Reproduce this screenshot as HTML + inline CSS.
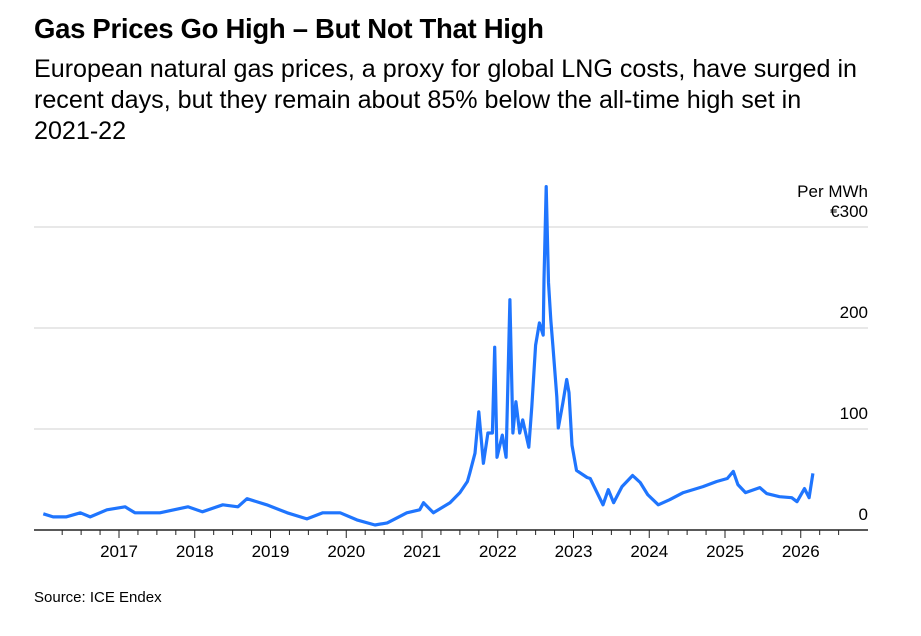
<!DOCTYPE html>
<html><head><meta charset="utf-8"><style>
body{margin:0;background:#fff;width:921px;height:636px;overflow:hidden;font-family:"Liberation Sans",sans-serif;color:#000}
#title{position:absolute;left:34px;top:13px;font-size:27.5px;font-weight:bold;letter-spacing:-0.3px}
#sub{position:absolute;left:34px;top:54px;width:832px;font-size:25.1px;line-height:31px}
#src{position:absolute;left:34px;top:589px;font-size:15px}
svg{position:absolute;left:0;top:0}
</style></head><body>
<div id="title">Gas Prices Go High – But Not That High</div>
<div id="sub">European natural gas prices, a proxy for global LNG costs, have surged in recent days, but they remain about 85% below the all-time high set in <span style="white-space:nowrap">2021-22</span></div>
<div id="src">Source: ICE Endex</div>
<svg id="chart" width="921" height="636"></svg>
<script>
const dates=[2016.0,2016.13,2016.3,2016.49,2016.62,2016.84,2017.08,2017.21,2017.54,2017.91,2018.10,2018.37,2018.57,2018.69,2018.95,2019.22,2019.48,2019.69,2019.92,2020.14,2020.38,2020.54,2020.80,2020.97,2021.02,2021.15,2021.37,2021.5,2021.6,2021.63,2021.70,2021.75,2021.81,2021.87,2021.93,2021.96,2021.99,2022.06,2022.11,2022.16,2022.2,2022.24,2022.29,2022.33,2022.41,2022.45,2022.5,2022.55,2022.6,2022.61,2022.64,2022.67,2022.70,2022.73,2022.78,2022.80,2022.86,2022.91,2022.94,2022.98,2023.04,2023.18,2023.22,2023.39,2023.46,2023.53,2023.64,2023.78,2023.88,2023.98,2024.12,2024.27,2024.45,2024.58,2024.71,2024.89,2025.03,2025.11,2025.17,2025.27,2025.46,2025.55,2025.72,2025.88,2025.95,2026.05,2026.11,2026.16];
const prices=[16,13,13,17,13,20,23,17,17,23,18,25,23,31,25,17,11,17,17,10,5,7,17,20,27,17,27,37,48,56,76,117,66,96,96,181,72,94,72,228,96,127,96,109,82,122,183,205,193,248,340,245,208,181,132,101,126,149,136,84,59,52,51,25,40,27,43,54,47,35,25,30,37,40,43,48,51,58,45,37,42,36,33,32,28,41,32,56];
const yTicks=[0,100,200,300];
const yearTicks=[2017,2018,2019,2020,2021,2022,2023,2024,2025,2026];
const ns="http://www.w3.org/2000/svg",svg=document.getElementById('chart');
const X=t=>119+(t-2017)*75.75, Y=v=>530-v*1.01;
function mk(tag,at){const e=document.createElementNS(ns,tag);for(const k in at)e.setAttribute(k,at[k]);svg.appendChild(e);return e;}
yTicks.forEach(v=>{
 if(v>0){const g=mk('line',{x1:34,x2:868,y1:Y(v),y2:Y(v),stroke:'#d0d0d0','stroke-width':1});
 
 }
 const t=mk('text',{x:868,y:Y(v)-10,'text-anchor':'end','font-size':17,'font-family':'Liberation Sans, sans-serif'});
 t.textContent=(v===300?'€':'')+v;
 
 
});
const u=mk('text',{x:868,y:197,'text-anchor':'end','font-size':17,'font-family':'Liberation Sans, sans-serif'});u.textContent='Per MWh';


const ax=mk('line',{x1:34,x2:868,y1:530,y2:530,stroke:'#222','stroke-width':1.5});


for(let q=2016.25;q<2026.6;q+=0.25){const major=Math.abs(q-Math.round(q))<0.01;
 mk('line',{x1:X(q),x2:X(q),y1:530,y2:major?538:535,stroke:'#222','stroke-width':1});}
yearTicks.forEach(y=>{const t=mk('text',{x:X(y),y:557,'text-anchor':'middle','font-size':17,'font-family':'Liberation Sans, sans-serif'});t.textContent=y;
 
 });
const p=mk('path',{d:dates.map((d,i)=>(i?'L':'M')+X(d).toFixed(1)+','+Y(prices[i]).toFixed(1)).join(''),fill:'none',stroke:'#1f75fe','stroke-width':3.2,'stroke-linejoin':'round'});


</script>
</body></html>
